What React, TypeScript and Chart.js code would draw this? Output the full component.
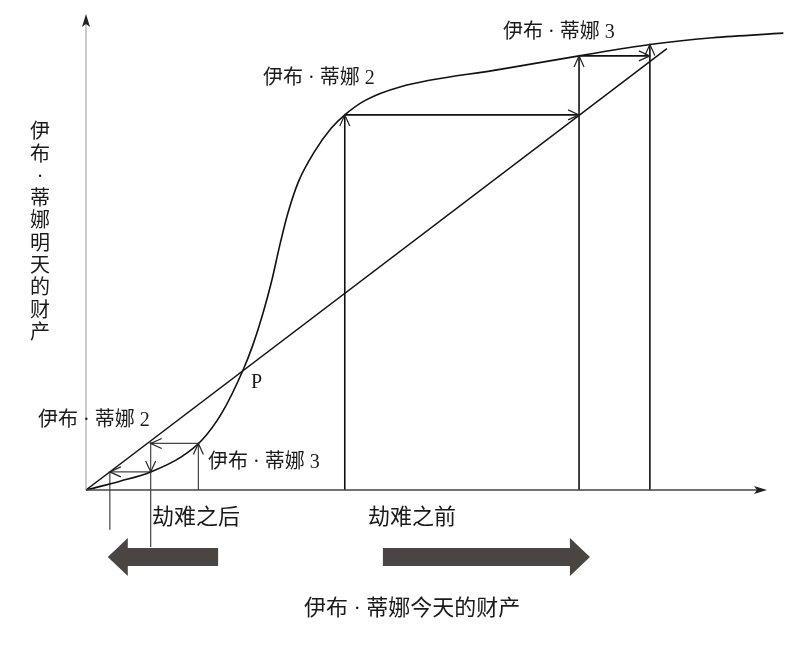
import React, { useEffect, useRef } from 'react';
import { Chart, registerables } from 'chart.js';

Chart.register(...registerables);

// S-shaped wealth curve: today's wealth (x) -> tomorrow's wealth (y)
const curveX = [0, 5, 9.5, 14, 17, 20, 23, 24.5, 26, 27.3, 28.4, 29.6, 31.2, 33.5, 36, 38, 41, 46.1, 60.8, 72.4, 82.8, 92, 102.4];
const curveY = [0, 1.7, 3.5, 6.4, 9.6, 15.0, 23, 28.0, 34.2, 40.6, 47.0, 53.3, 59.6, 65.3, 69.9, 72.5, 75.3, 77.9, 81.3, 83.9, 86.1, 87.4, 88.3];

// 45-degree line
const diagX = [0, 85.3];
const diagY = [0, 85.3];

// cobweb steps [x1, y1, x2, y2]
const stepsBefore = [
    [38.0, 0, 38.0, 72.5],
    [38.0, 72.5, 72.4, 72.5],
    [72.4, 0, 72.4, 83.9],
    [72.4, 83.9, 82.8, 83.9],
    [82.8, 0, 82.8, 86.1],
];
const stepsAfter = [
    [16.5, 0, 16.5, 9.0],
    [16.5, 9.0, 9.5, 9.0],
    [9.5, 9.3, 9.5, -11],
    [9.5, 3.5, 3.5, 3.5],
    [3.5, 3.5, 3.5, -7.7],
];

// arrow heads [x, y, direction]
const arrowHeads: [number, number, string][] = [
    [38.0, 72.5, 'up'],
    [72.4, 72.5, 'right'],
    [72.4, 83.9, 'up'],
    [82.8, 83.9, 'right'],
    [82.8, 86.1, 'up'],
    [16.5, 9.0, 'up'],
    [9.5, 9.0, 'left'],
    [9.5, 3.5, 'down'],
    [3.5, 3.5, 'left'],
];

const labels = [
    { text: '伊布 · 蒂娜 2', x: 263, y: 79, size: 20 },
    { text: '伊布 · 蒂娜 3', x: 503, y: 33, size: 20 },
    { text: '伊布 · 蒂娜 2', x: 38, y: 421, size: 20 },
    { text: '伊布 · 蒂娜 3', x: 208, y: 463, size: 20 },
    { text: 'P', x: 251, y: 383, size: 20 },
    { text: '劫难之后', x: 152, y: 518, size: 22 },
    { text: '劫难之前', x: 368, y: 518, size: 22 },
    { text: '伊布 · 蒂娜今天的财产', x: 304, y: 609, size: 22 },
];
const yTitle = ['伊', '布', '·', '蒂', '娜', '明', '天', '的', '财', '产'];

const FONT = '"Liberation Serif", "Noto Sans CJK SC", serif';

const diagramPlugin = {
    id: 'diagram',
    afterDatasetsDraw(chart: any) {
        const { ctx, chartArea, scales } = chart;
        const xs = scales.x;
        const ys = scales.y;
        const { left, bottom, top, right } = chartArea;
        ctx.save();

        // axes
        ctx.strokeStyle = '#999';
        ctx.lineWidth = 1;
        ctx.beginPath();
        ctx.moveTo(left, bottom);
        ctx.lineTo(left, top + 10);
        ctx.stroke();
        ctx.strokeStyle = '#444';
        ctx.lineWidth = 1.3;
        ctx.beginPath();
        ctx.moveTo(left, bottom);
        ctx.lineTo(right - 10, bottom);
        ctx.stroke();
        ctx.fillStyle = '#222';
        ctx.beginPath();
        ctx.moveTo(left, top);
        ctx.lineTo(left - 4, top + 13);
        ctx.lineTo(left, top + 10);
        ctx.lineTo(left + 4, top + 13);
        ctx.closePath();
        ctx.fill();
        ctx.beginPath();
        ctx.moveTo(right, bottom);
        ctx.lineTo(right - 13, bottom - 4);
        ctx.lineTo(right - 10, bottom);
        ctx.lineTo(right - 13, bottom + 4);
        ctx.closePath();
        ctx.fill();

        // open arrow heads on the cobweb
        ctx.strokeStyle = '#222';
        ctx.lineWidth = 1.2;
        arrowHeads.forEach(([x, y, dir]) => {
            const px = xs.getPixelForValue(x);
            const py = ys.getPixelForValue(y);
            const L = 11, W = 5;
            ctx.beginPath();
            if (dir === 'up') {
                ctx.moveTo(px - W, py + L); ctx.lineTo(px, py); ctx.lineTo(px + W, py + L);
            } else if (dir === 'down') {
                ctx.moveTo(px - W, py - L); ctx.lineTo(px, py); ctx.lineTo(px + W, py - L);
            } else if (dir === 'left') {
                ctx.moveTo(px + L, py - W); ctx.lineTo(px, py); ctx.lineTo(px + L, py + W);
            } else {
                ctx.moveTo(px - L, py - W); ctx.lineTo(px, py); ctx.lineTo(px - L, py + W);
            }
            ctx.stroke();
        });

        // thick direction arrows under the axis
        ctx.fillStyle = '#4a4542';
        const cy = bottom + 67;
        const drawBig = (from: number, to: number) => {
            const a = xs.getPixelForValue(from);
            const b = xs.getPixelForValue(to);
            const d = b > a ? 1 : -1;
            const head = b - d * 20;
            ctx.beginPath();
            ctx.moveTo(a, cy - 9);
            ctx.lineTo(head, cy - 9);
            ctx.lineTo(head, cy - 19);
            ctx.lineTo(b, cy);
            ctx.lineTo(head, cy + 19);
            ctx.lineTo(head, cy + 9);
            ctx.lineTo(a, cy + 9);
            ctx.closePath();
            ctx.fill();
        };
        drawBig(19.4, 3.2);
        drawBig(43.6, 74.0);

        // texts
        ctx.fillStyle = '#1a1a1a';
        ctx.textBaseline = 'middle';
        ctx.textAlign = 'left';
        labels.forEach((l) => {
            ctx.font = `${l.size}px ${FONT}`;
            ctx.fillText(l.text, l.x, l.y);
        });
        ctx.font = `20px ${FONT}`;
        ctx.textAlign = 'center';
        yTitle.forEach((ch, i) => {
            ctx.fillText(ch, 40, 133 + i * 22.3);
        });
        ctx.restore();
    },
};

function toPoints(xv: number[], yv: number[]) {
    return xv.map((x, i) => ({ x, y: yv[i] }));
}

function segmentSets(steps: number[][], color: string, width: number) {
    return steps.map((s) => ({
        data: [{ x: s[0], y: s[1] }, { x: s[2], y: s[3] }],
        borderColor: color,
        borderWidth: width,
        showLine: true,
        pointRadius: 0,
        clip: false as const,
    }));
}

function PovertyTrapChart() {
    const chartRef = useRef<HTMLCanvasElement | null>(null);
    const chartInstance = useRef<Chart | null>(null);

    useEffect(() => {
        if (!chartRef.current) return;
        if (chartInstance.current) chartInstance.current.destroy();
        const ctx = chartRef.current.getContext('2d');
        if (!ctx) return;
        chartInstance.current = new Chart(ctx, {
            type: 'scatter',
            data: {
                datasets: [
                    {
                        data: toPoints(curveX, curveY),
                        borderColor: '#111',
                        borderWidth: 1.6,
                        showLine: true,
                        pointRadius: 0,
                        cubicInterpolationMode: 'monotone',
                        clip: false,
                    },
                    {
                        data: toPoints(diagX, diagY),
                        borderColor: '#111',
                        borderWidth: 1.5,
                        showLine: true,
                        pointRadius: 0,
                        clip: false,
                    },
                    ...segmentSets(stepsBefore, '#111', 1.6),
                    ...segmentSets(stepsAfter, '#444', 1.2),
                ] as any,
            },
            options: {
                animation: false,
                responsive: true,
                maintainAspectRatio: false,
                layout: { padding: { left: 86, right: 33, top: 14, bottom: 156 } },
                plugins: { legend: { display: false }, tooltip: { enabled: false } },
                scales: {
                    x: { type: 'linear', min: 0, max: 100, display: false },
                    y: { type: 'linear', min: 0, max: 92, display: false },
                },
            },
            plugins: [diagramPlugin],
        });
        return () => {
            if (chartInstance.current) {
                chartInstance.current.destroy();
                chartInstance.current = null;
            }
        };
    }, []);

    return <canvas ref={chartRef} />;
}

export default function App() {
    return (
        <div style={{ position: 'absolute', left: 0, top: 0, width: 800, height: 646, background: '#fff' }}>
            <PovertyTrapChart />
        </div>
    );
}
